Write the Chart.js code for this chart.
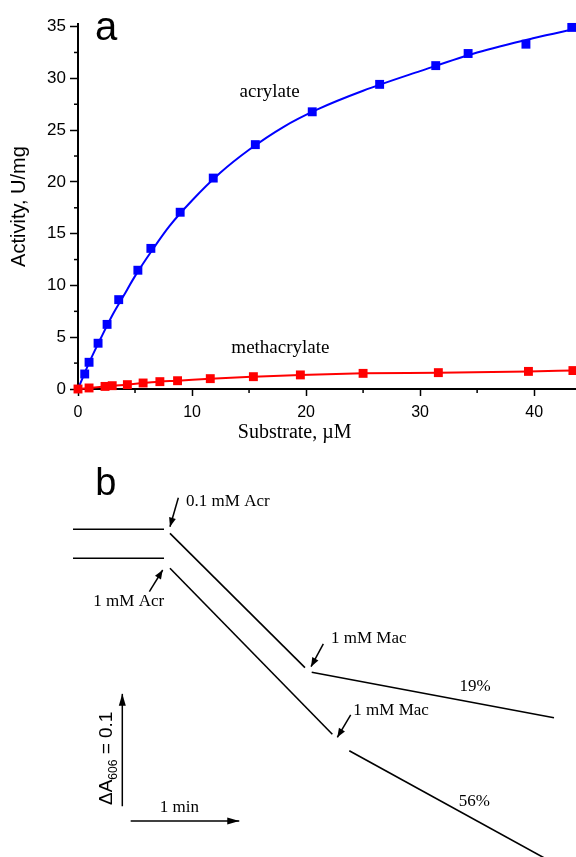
<!DOCTYPE html>
<html><head><meta charset="utf-8">
<script src="https://cdn.jsdelivr.net/npm/chart.js@4/dist/chart.umd.min.js"></script>
<style>
html,body{margin:0;padding:0;background:#fff;}
#wrap{position:relative;width:576px;height:857px;overflow:hidden;background:#fff;}
#ca{position:absolute;left:0;top:0;}
#cb{position:absolute;left:0;top:450px;}
</style></head><body>
<div id="wrap"><canvas id="ca" width="576" height="450"></canvas><canvas id="cb" width="576" height="407"></canvas></div>
<script>
// ---------- Panel a data (substrate, µM ; activity, U/mg) ----------
const acrylateS = [0.59, 0.97, 1.76, 2.55, 3.57, 5.25, 6.39, 8.96, 11.86, 15.55, 20.54, 26.45, 31.37, 34.21, 39.28, 43.3];
const acrylateV = [1.45, 2.58, 4.42, 6.24, 8.63, 11.47, 13.58, 17.07, 20.37, 23.6, 26.77, 29.42, 31.23, 32.4, 33.3, 34.92];
// fitted curve through the acrylate points
const acrylateFitS = [0, 1, 2, 3, 4, 5, 6.5, 8, 10, 12.5, 15, 18, 21, 25, 30, 35, 40, 43.7];
const acrylateFitV = [0, 2.6, 4.9, 7.1, 9.0, 10.9, 13.4, 15.7, 18.2, 20.9, 23.1, 25.3, 27.0, 28.8, 30.7, 32.5, 33.9, 34.8];
const methacrylateS = [0, 0.97, 2.37, 3.0, 4.33, 5.71, 7.18, 8.73, 11.6, 15.38, 19.5, 25.0, 31.6, 39.5, 43.4];
const methacrylateV = [0, 0.1, 0.25, 0.32, 0.42, 0.58, 0.71, 0.8, 1.0, 1.19, 1.36, 1.51, 1.58, 1.7, 1.78];
const xTickStep = 10, yTickStep = 5;

// ---------- Panel b data (time, min ; absorbance change) ----------
const upperBaseT = [0, 0.838],     upperBaseA = [0, 0];
const upperAcrT  = [0.893, 2.136], upperAcrA  = [-0.0036, -0.1231];
const upperMacT  = [2.198, 4.429], upperMacA  = [-0.1272, -0.1676];
const lowerBaseT = [0, 0.838],     lowerBaseA = [-0.0258, -0.0258];
const lowerAcrT  = [0.893, 2.388], lowerAcrA  = [-0.0347, -0.1824];
const lowerMacT  = [2.544, 4.374], lowerMacA  = [-0.1970, -0.2942];
const barVT = [0.454, 0.454], barVA = [-0.2464, -0.1464];   // ΔA = 0.1
const barHT = [0.531, 1.531], barHA = [-0.2596, -0.2596];   // 1 min

const pts = (xs, ys) => xs.map((x, i) => ({x, y: ys[i]}));

const SANS = '"Liberation Sans", Arial, sans-serif';
const SERIF = '"Liberation Serif", "Times New Roman", serif';

// ---------- Panel a ----------
const panelAExtras = {
  id: 'panelAExtras',
  afterDraw(chart) {
    const ctx = chart.ctx, xs = chart.scales.x, ys = chart.scales.y;
    ctx.save();
    ctx.strokeStyle = '#000'; ctx.lineWidth = 1.5;
    const mids = (sc) => {
      const v = sc.ticks.map(t => t.value); const step = v[1] - v[0]; const out = [];
      v.forEach(a => { if (a + step / 2 <= sc.max) out.push(a + step / 2); });
      return out;
    };
    mids(xs).forEach(v => { const p = xs.getPixelForValue(v); ctx.beginPath(); ctx.moveTo(p, xs.top); ctx.lineTo(p, xs.top + 4); ctx.stroke(); });
    mids(ys).forEach(v => { const p = ys.getPixelForValue(v); ctx.beginPath(); ctx.moveTo(ys.right, p); ctx.lineTo(ys.right - 4, p); ctx.stroke(); });
    ctx.fillStyle = '#000';
    // panel letter
    ctx.font = '40px ' + SANS; ctx.textAlign = 'left'; ctx.textBaseline = 'alphabetic';
    ctx.fillText('a', 95, 40);
    // series labels
    ctx.font = '19px ' + SERIF; ctx.textAlign = 'center'; ctx.textBaseline = 'middle';
    ctx.fillText('acrylate', xs.getPixelForValue(16.8), ys.getPixelForValue(28.7));
    ctx.fillText('methacrylate', xs.getPixelForValue(17.75), ys.getPixelForValue(3.93));
    // x axis title
    ctx.font = '20px ' + SERIF;
    ctx.fillText('Substrate, \u00B5M', xs.getPixelForValue(19.0), 433);
    ctx.restore();
  }
};

new Chart(document.getElementById('ca'), {
  type: 'scatter',
  data: {
    datasets: [
      { label: 'methacrylate', data: pts(methacrylateS, methacrylateV), showLine: true,
        borderColor: '#ff0000', backgroundColor: '#ff0000', borderWidth: 2,
        pointStyle: 'rect', pointRadius: 6.3, pointBorderWidth: 0, cubicInterpolationMode: 'monotone',
        clip: false, order: 0 },
      { label: 'acrylate', data: pts(acrylateS, acrylateV), showLine: false,
        borderColor: '#0000ff', backgroundColor: '#0000ff',
        pointStyle: 'rect', pointRadius: 6.3, pointBorderWidth: 0, clip: false, order: 1 },
      { label: 'acrylate fit', data: pts(acrylateFitS, acrylateFitV), showLine: true,
        borderColor: '#0000ff', backgroundColor: '#0000ff', borderWidth: 2, pointRadius: 0,
        cubicInterpolationMode: 'monotone', clip: false, order: 2 }
    ]
  },
  options: {
    responsive: false, animation: false, devicePixelRatio: 1,
    layout: { padding: { top: 24, right: 0, left: 0, bottom: 0 }, autoPadding: false },
    plugins: { legend: { display: false }, tooltip: { enabled: false } },
    scales: {
      x: {
        type: 'linear', min: 0, max: 43.67,
        ticks: { stepSize: xTickStep, includeBounds: false, color: '#000', padding: 7,
                 font: { family: SANS, size: 16 }, maxRotation: 0 },
        grid: { drawOnChartArea: false, tickLength: 7, tickColor: '#000', tickWidth: 1.5 },
        border: { display: true, color: '#000', width: 2 },
        afterFit: s => { s.height = 61; s.paddingLeft = 0; s.paddingRight = 0; }
      },
      y: {
        type: 'linear', min: 0, max: 35.25,
        ticks: { stepSize: yTickStep, includeBounds: false, color: '#000', padding: 4,
                 font: { family: SANS, size: 17 } },
        grid: { drawOnChartArea: false, tickLength: 8, tickColor: '#000', tickWidth: 1.5 },
        border: { display: true, color: '#000', width: 2 },
        title: { display: true, text: 'Activity, U/mg', color: '#000',
                 font: { family: SANS, size: 20 }, padding: { top: 7, bottom: 0 } },
        afterFit: s => { s.width = 78; s.paddingTop = 0; s.paddingBottom = 0; }
      }
    }
  },
  plugins: [panelAExtras]
});

// ---------- Panel b ----------
const arrowsB = [
  { from: [0.970, 0.0281], to: [0.893, 0.0023] },
  { from: [0.703, -0.0555], to: [0.826, -0.0362] },
  { from: [2.305, -0.1020], to: [2.192, -0.1222] },
  { from: [2.557, -0.1652], to: [2.434, -0.1851] }
];
const labelsB = [
  { text: '0.1 mM Acr', t: 1.041, A: 0.0246, align: 'left' },
  { text: '1 mM Acr', t: 0.187, A: -0.0644, align: 'left' },
  { text: '1 mM Mac', t: 2.376, A: -0.0970, align: 'left' },
  { text: '1 mM Mac', t: 2.581, A: -0.1608, align: 'left' },
  { text: '19%', t: 3.702, A: -0.140, align: 'center' },
  { text: '56%', t: 3.695, A: -0.2424, align: 'center' },
  { text: '1 min', t: 0.979, A: -0.2477, align: 'center' }
];

function head(ctx, x1, y1, x2, y2, L, W) {
  const a = Math.atan2(y2 - y1, x2 - x1);
  ctx.beginPath();
  ctx.moveTo(x2, y2);
  ctx.lineTo(x2 - L * Math.cos(a) + W * Math.sin(a), y2 - L * Math.sin(a) - W * Math.cos(a));
  ctx.lineTo(x2 - L * Math.cos(a) - W * Math.sin(a), y2 - L * Math.sin(a) + W * Math.cos(a));
  ctx.closePath(); ctx.fill();
}

const panelBExtras = {
  id: 'panelBExtras',
  afterDatasetsDraw(chart) {
    const ctx = chart.ctx, xs = chart.scales.x, ys = chart.scales.y;
    const X = v => xs.getPixelForValue(v), Y = v => ys.getPixelForValue(v);
    ctx.save();
    ctx.fillStyle = '#000'; ctx.strokeStyle = '#000';
    // arrowheads on scale bars
    chart.data.datasets.forEach(ds => {
      if (!ds.arrowHead) return;
      const d = ds.data, p1 = d[d.length - 2], p2 = d[d.length - 1];
      head(ctx, X(p1.x), Y(p1.y), X(p2.x), Y(p2.y), 12, 3.5);
    });
    // annotation arrows
    ctx.lineWidth = 1.5;
    arrowsB.forEach(a => {
      const x1 = X(a.from[0]), y1 = Y(a.from[1]), x2 = X(a.to[0]), y2 = Y(a.to[1]);
      ctx.beginPath(); ctx.moveTo(x1, y1); ctx.lineTo(x2, y2); ctx.stroke();
      head(ctx, x1, y1, x2, y2, 9, 3.5);
    });
    // labels
    ctx.font = '17px ' + SERIF; ctx.textBaseline = 'middle';
    labelsB.forEach(l => { ctx.textAlign = l.align; ctx.fillText(l.text, X(l.t), Y(l.A)); });
    // panel letter
    ctx.font = '38px ' + SANS; ctx.textAlign = 'left'; ctx.textBaseline = 'alphabetic';
    ctx.fillText('b', X(0.205), Y(0.0305));
    // rotated scale label: ΔA606 = 0.1
    ctx.translate(X(0.359), Y(-0.2453));
    ctx.rotate(-Math.PI / 2);
    ctx.textAlign = 'left'; ctx.textBaseline = 'alphabetic';
    ctx.font = '19px ' + SANS;
    let x = 0;
    ctx.fillText('\u0394A', x, 0); x += ctx.measureText('\u0394A').width;
    ctx.font = '12px ' + SANS;
    ctx.fillText('606', x, 5); x += ctx.measureText('606').width;
    ctx.font = '19px ' + SANS;
    ctx.fillText(' = 0.1', x, 0);
    ctx.restore();
  }
};

const lineDs = (data, extra) => Object.assign({ data, showLine: true, borderColor: '#000',
  backgroundColor: '#000', borderWidth: 1.6, pointRadius: 0, tension: 0 }, extra || {});

new Chart(document.getElementById('cb'), {
  type: 'scatter',
  data: {
    datasets: [
      lineDs(pts(upperBaseT, upperBaseA)),
      lineDs(pts(upperAcrT, upperAcrA)),
      lineDs(pts(upperMacT, upperMacA)),
      lineDs(pts(lowerBaseT, lowerBaseA)),
      lineDs(pts(lowerAcrT, lowerAcrA)),
      lineDs(pts(lowerMacT, lowerMacA)),
      lineDs(pts(barVT, barVA), { arrowHead: true, borderWidth: 1.5 }),
      lineDs(pts(barHT, barHA), { arrowHead: true, borderWidth: 1.5 })
    ]
  },
  options: {
    responsive: false, animation: false, devicePixelRatio: 1,
    layout: { padding: 0, autoPadding: false },
    plugins: { legend: { display: false }, tooltip: { enabled: false } },
    scales: {
      x: { type: 'linear', display: false, min: -0.6722, max: 4.6317 },
      y: { type: 'linear', display: false, min: -0.29155, max: 0.07055 }
    }
  },
  plugins: [panelBExtras]
});
</script>
</body></html>
